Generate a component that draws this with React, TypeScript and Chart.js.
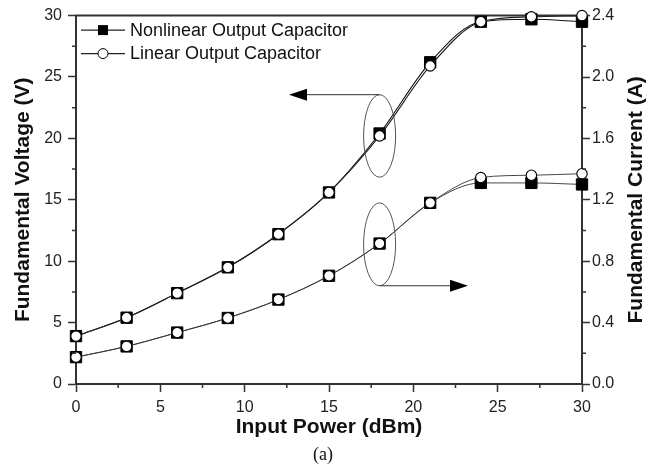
import React, { useEffect, useRef } from "react";
import { Chart, registerables } from "chart.js";
Chart.register(...registerables);

// ---- data ----
const INPUT_POWER = [0, 3, 6, 9, 12, 15, 18, 21, 24, 27, 30];
const VOLT_NONLINEAR = [3.9, 5.4, 7.4, 9.5, 12.2, 15.6, 20.4, 26.2, 29.5, 29.7, 29.5];
const VOLT_LINEAR = [3.9, 5.4, 7.4, 9.5, 12.2, 15.6, 20.2, 25.9, 29.5, 29.9, 30.0];
const CURR_NONLINEAR = [0.175, 0.245, 0.335, 0.43, 0.55, 0.705, 0.915, 1.18, 1.31, 1.31, 1.3];
const CURR_LINEAR = [0.175, 0.245, 0.335, 0.43, 0.55, 0.705, 0.915, 1.18, 1.345, 1.36, 1.37];

const SERIES_NAMES = ["Nonlinear Output Capacitor", "Linear Output Capacitor"];
const X_TITLE = "Input Power (dBm)";
const Y_LEFT_TITLE = "Fundamental Voltage (V)";
const Y_RIGHT_TITLE = "Fundamental Current (A)";
const CAPTION = "(a)";

const X_MINOR = [2.5, 7.5, 12.5, 17.5, 22.5, 27.5];
const V_MINOR = [2.5, 7.5, 12.5, 17.5, 22.5, 27.5];
const I_MINOR = [0.2, 0.6, 1.0, 1.4, 1.8, 2.2];

// annotation groups (data coordinates)
const VOLT_GROUP = { x: 18, y: 20.2, rx: 0.95, ry: 3.36, arrowTo: 12.63, axis: "y", side: "top" };
const CURR_GROUP = { x: 18, y: 0.91, rx: 0.95, ry: 0.27, arrowTo: 23.24, axis: "y1", side: "bottom" };

const SANS = "'Liberation Sans', Arial, Helvetica, sans-serif";
const SERIF = "'Liberation Serif', 'Times New Roman', serif";

const pts = (ys: number[]) => INPUT_POWER.map((x, i) => ({ x, y: ys[i] }));

const framePlugin = {
  id: "frame",
  beforeDatasetsDraw(chart: any) {
    const { ctx, chartArea } = chart;
    ctx.save();
    ctx.strokeStyle = "#333";
    ctx.lineWidth = 2;
    ctx.beginPath();
    ctx.moveTo(chartArea.left - 1, chartArea.top);
    ctx.lineTo(chartArea.right + 1, chartArea.top);
    ctx.stroke();
    ctx.restore();
  },
  afterDraw(chart: any) {
    const { ctx, chartArea, scales } = chart;
    ctx.save();
    ctx.strokeStyle = "#333";
    ctx.lineWidth = 1.5;
    ctx.beginPath();
    X_MINOR.forEach((v) => {
      const p = scales.x.getPixelForValue(v);
      ctx.moveTo(p, chartArea.bottom);
      ctx.lineTo(p, chartArea.bottom + 4);
    });
    V_MINOR.forEach((v) => {
      const p = scales.y.getPixelForValue(v);
      ctx.moveTo(chartArea.left - 4, p);
      ctx.lineTo(chartArea.left, p);
    });
    I_MINOR.forEach((v) => {
      const p = scales.y1.getPixelForValue(v);
      ctx.moveTo(chartArea.right, p);
      ctx.lineTo(chartArea.right + 4, p);
    });
    ctx.stroke();

    // right axis title (reads bottom-to-top)
    ctx.fillStyle = "#111";
    ctx.font = `bold 21px ${SANS}`;
    ctx.textAlign = "center";
    ctx.textBaseline = "middle";
    ctx.save();
    ctx.translate(scales.y1.right - 23, (chartArea.top + chartArea.bottom) / 2);
    ctx.rotate(-Math.PI / 2);
    ctx.fillText(Y_RIGHT_TITLE, 0, 0);
    ctx.restore();

    // caption
    ctx.font = `18px ${SERIF}`;
    ctx.fillText(CAPTION, (chartArea.left + chartArea.right) / 2 - 6, 455);
    ctx.restore();
  },
};

const legendPlugin = {
  id: "customLegend",
  afterDraw(chart: any) {
    const { ctx, chartArea } = chart;
    const x0 = chartArea.left + 5;
    const x1 = chartArea.left + 49;
    const mx = chartArea.left + 27;
    const rows = [chartArea.top + 14.5, chartArea.top + 38];
    ctx.save();
    rows.forEach((y, i) => {
      ctx.strokeStyle = "#222";
      ctx.lineWidth = 1.2;
      ctx.beginPath();
      ctx.moveTo(x0, y);
      ctx.lineTo(x1, y);
      ctx.stroke();
      if (i === 0) {
        ctx.fillStyle = "#000";
        ctx.fillRect(mx - 5, y - 5, 10, 10);
      } else {
        ctx.fillStyle = "#fff";
        ctx.beginPath();
        ctx.arc(mx, y, 5, 0, Math.PI * 2);
        ctx.fill();
        ctx.lineWidth = 1;
        ctx.strokeStyle = "#000";
        ctx.stroke();
      }
      ctx.fillStyle = "#111";
      ctx.font = `18px ${SANS}`;
      ctx.textAlign = "left";
      ctx.textBaseline = "middle";
      ctx.fillText(SERIES_NAMES[i], chartArea.left + 54, y + 0.5);
    });
    ctx.restore();
  },
};

const annotationPlugin = {
  id: "groups",
  afterDatasetsDraw(chart: any) {
    const { ctx, scales } = chart;
    ctx.save();
    [VOLT_GROUP, CURR_GROUP].forEach((g) => {
      const ys = scales[g.axis];
      const cx = scales.x.getPixelForValue(g.x);
      const cy = ys.getPixelForValue(g.y);
      const rx = Math.abs(scales.x.getPixelForValue(g.x + g.rx) - cx);
      const ry = Math.abs(ys.getPixelForValue(g.y + g.ry) - cy);
      ctx.strokeStyle = "#555";
      ctx.lineWidth = 1;
      ctx.beginPath();
      ctx.ellipse(cx, cy, rx, ry, 0, 0, Math.PI * 2);
      ctx.stroke();
      const ay = g.side === "top" ? cy - ry : cy + ry;
      const tip = scales.x.getPixelForValue(g.arrowTo);
      const dir = tip > cx ? 1 : -1;
      ctx.strokeStyle = "#333";
      ctx.beginPath();
      ctx.moveTo(cx, ay);
      ctx.lineTo(tip - dir * 17, ay);
      ctx.stroke();
      ctx.fillStyle = "#000";
      ctx.beginPath();
      ctx.moveTo(tip, ay);
      ctx.lineTo(tip - dir * 18, ay - 6);
      ctx.lineTo(tip - dir * 18, ay + 6);
      ctx.closePath();
      ctx.fill();
    });
    ctx.restore();
  },
};

export default function App() {
  const ref = useRef<HTMLCanvasElement>(null);
  useEffect(() => {
    const canvas = ref.current!;
    Chart.defaults.font.family = SANS;
    const common = {
      showLine: true,
      borderWidth: 1.1,
      cubicInterpolationMode: "monotone",
      clip: false,
      pointHoverRadius: 0,
    };
    const tickFont = { size: 16 };
    const chart = new Chart(canvas, {
      type: "line",
      data: {
        datasets: [
          {
            ...common,
            label: SERIES_NAMES[0],
            data: pts(VOLT_NONLINEAR),
            yAxisID: "y",
            borderColor: "#111",
            pointStyle: "rect",
            pointRadius: 8,
            pointBackgroundColor: "#000",
            pointBorderColor: "#000",
            pointBorderWidth: 1,
            order: 2,
          },
          {
            ...common,
            label: SERIES_NAMES[1],
            data: pts(VOLT_LINEAR),
            yAxisID: "y",
            borderColor: "#222",
            pointStyle: "circle",
            pointRadius: 5.2,
            pointBackgroundColor: "#fff",
            pointBorderColor: "#000",
            pointBorderWidth: 1.1,
            order: 1,
          },
          {
            ...common,
            label: SERIES_NAMES[0],
            data: pts(CURR_NONLINEAR),
            yAxisID: "y1",
            borderColor: "#333",
            borderWidth: 0.9,
            pointStyle: "rect",
            pointRadius: 8,
            pointBackgroundColor: "#000",
            pointBorderColor: "#000",
            pointBorderWidth: 1,
            order: 2,
          },
          {
            ...common,
            label: SERIES_NAMES[1],
            data: pts(CURR_LINEAR),
            yAxisID: "y1",
            borderColor: "#333",
            borderWidth: 0.9,
            pointStyle: "circle",
            pointRadius: 5.2,
            pointBackgroundColor: "#fff",
            pointBorderColor: "#000",
            pointBorderWidth: 1.1,
            order: 1,
          },
        ],
      } as any,
      options: {
        responsive: false,
        animation: false,
        events: [],
        devicePixelRatio: 1,
        layout: { padding: { top: 13, left: 0, right: 0, bottom: 0 } },
        plugins: { legend: { display: false }, tooltip: { enabled: false } },
        scales: {
          x: {
            type: "linear",
            position: "bottom",
            min: 0,
            max: 30,
            afterFit: (s: any) => {
              s.height = 87;
            },
            ticks: { stepSize: 5, autoSkip: false, maxRotation: 0, padding: 6, color: "#222", font: tickFont },
            grid: { drawOnChartArea: false, drawTicks: true, tickLength: 8, tickWidth: 1.5, tickColor: "#333" },
            border: { display: true, width: 2, color: "#333" },
            title: {
              display: true,
              text: X_TITLE,
              color: "#111",
              font: { size: 21, weight: "bold" },
              padding: { top: 0, bottom: 31 },
            },
          },
          y: {
            type: "linear",
            position: "left",
            min: 0,
            max: 30,
            afterFit: (s: any) => {
              s.width = 76;
            },
            ticks: { stepSize: 5, padding: 6, color: "#222", font: tickFont },
            grid: { drawOnChartArea: false, drawTicks: true, tickLength: 8, tickWidth: 1.5, tickColor: "#333" },
            border: { display: true, width: 2, color: "#333" },
            title: {
              display: true,
              text: Y_LEFT_TITLE,
              color: "#111",
              font: { size: 21, weight: "bold" },
              padding: { top: 11, bottom: 0 },
            },
          },
          y1: {
            type: "linear",
            position: "right",
            min: 0,
            max: 2.4,
            afterFit: (s: any) => {
              s.width = 77;
            },
            ticks: {
              stepSize: 0.4,
              padding: 2,
              color: "#222",
              font: tickFont,
              callback: (v: any) => Number(v).toFixed(1),
            },
            grid: { drawOnChartArea: false, drawTicks: true, tickLength: 8, tickWidth: 1.5, tickColor: "#333" },
            border: { display: true, width: 2, color: "#333" },
            title: { display: false },
          },
        },
      } as any,
      plugins: [framePlugin, legendPlugin, annotationPlugin],
    });
    return () => chart.destroy();
  }, []);
  return (
    <canvas
      ref={ref}
      width={659}
      height={471}
      style={{ position: "absolute", left: 0, top: 0, display: "block", width: 659, height: 471 }}
    />
  );
}
